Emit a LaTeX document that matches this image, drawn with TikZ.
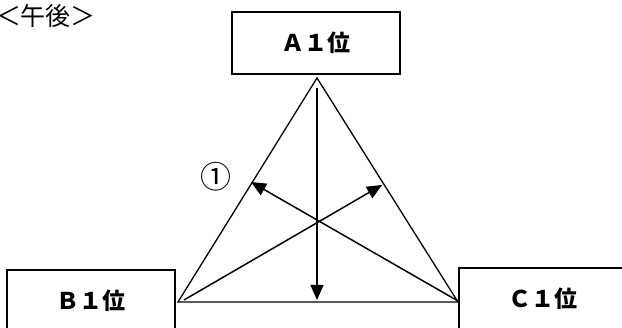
\documentclass[tikz,border=0pt]{standalone}
\usepackage{fontspec}
\newfontfamily\jp{Noto Sans CJK JP}
\usetikzlibrary{arrows.meta}
\begin{document}
\begin{tikzpicture}[x=1pt, y=-1pt,
    box/.style={draw, line width=1.5pt, minimum width=168pt, minimum height=62pt, inner sep=0pt, font=\jp\bfseries\fontsize{23}{23}\selectfont},
    side/.style={line width=1.3pt},
    arr/.style={line width=1.5pt, -{Triangle[length=15pt,width=13pt]}}]
        \useasboundingbox (0,0) rectangle (622,328);
        \clip (0,0) rectangle (622,328);

        % Nodes
        \node (title) at (46,16) [font=\jp\fontsize{25}{25}\selectfont, inner sep=0pt] {＜午後＞};
        \node (A) at (316,43) [box] {Ａ１位};
        \node (B) at (91,301) [box] {Ｂ１位};
        \node (C) at (543,299) [box] {Ｃ１位};
        \node (one) at (216,177) [font=\jp\fontsize{31}{31}\selectfont, inner sep=0pt] {①};

        % Corners and arrow ends
        \coordinate (top) at (317,78);
        \coordinate (left) at (178,302);
        \coordinate (right) at (458,302);
        \coordinate (start) at (317,88);
        \coordinate (base) at (317,300);
        \coordinate (lfoot) at (184,300);
        \coordinate (rfoot) at (458,301);
        \coordinate (ltip) at (251,182);
        \coordinate (rtip) at (382,185);

        % Edges
        \draw[side] (top) -- (left) -- (right) -- cycle;
        \draw[arr] (start) -- (base);
        \draw[arr] (rfoot) -- (ltip);
        \draw[arr] (lfoot) -- (rtip);
      \end{tikzpicture}
\end{document}
